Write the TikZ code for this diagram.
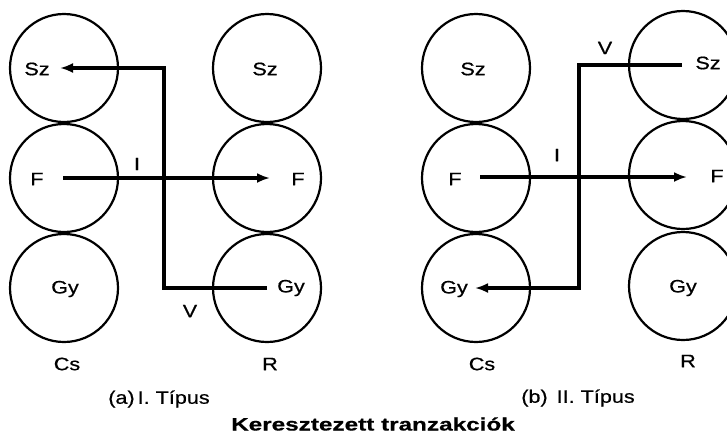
\documentclass[tikz,border=0pt]{standalone}
\usepackage{fontspec}
\setmainfont[FakeStretch=1.2,FakeBold=0.6]{Liberation Sans}
\newfontfamily\titlefont[FakeStretch=1.35,FakeBold=0.6]{Liberation Sans}
\usetikzlibrary{arrows.meta}
\begin{document}
\begin{tikzpicture}[x=1pt,y=-1pt,
  ring/.style={draw, line width=2.2pt, circle, minimum size=108pt, inner sep=0pt},
  lbl/.style={font=\fontsize{18}{20}\selectfont, inner sep=0pt},
  flow/.style={line width=3.8pt, line join=miter, -{Latex[length=13pt,width=10pt]}}]
\useasboundingbox (0,0) rectangle (727,442);
% ---- panel (a) ----
\node[ring] (aSz1) at (64,68) {};
\node[ring] (aF1)  at (64,178) {};
\node[ring] (aGy1) at (64,288) {};
\node[ring] (aSz2) at (267,68) {};
\node[ring] (aF2)  at (267,178) {};
\node[ring] (aGy2) at (267,288) {};
\node[lbl] (taSz1) at (37,69) {Sz};
\node[lbl] (taF1)  at (37,179) {F};
\node[lbl] (taGy1) at (65,289) {Gy};
\node[lbl] (taSz2) at (265,69) {Sz};
\node[lbl] (taF2)  at (298,179) {F};
\node[lbl] (taGy2) at (291,288) {Gy};
\node[lbl] (aCs) at (67,364) {Cs};
\node[lbl] (aR)  at (270,364) {R};
\node[lbl] (aI)  at (137,164) {I};
\node[lbl] (aV)  at (190,311) {V};
\node[lbl] (acap) at (159,399) {(a)\,I. Típus};
\coordinate (aIs) at (63,178);
\coordinate (aIe) at (270,178);
\coordinate (aVs) at (267,288);
\coordinate (aVc1) at (164,288);
\coordinate (aVc2) at (164,68);
\coordinate (aVe) at (60,68);
\draw[flow] (aIs) -- (aIe);
\draw[flow] (aVs) -- (aVc1) -- (aVc2) -- (aVe);
% ---- panel (b) ----
\node[ring] (bSz1) at (476,68) {};
\node[ring] (bF1)  at (476,178) {};
\node[ring] (bGy1) at (476,288) {};
\node[ring] (bSz2) at (683,65) {};
\node[ring] (bF2)  at (683,175) {};
\node[ring] (bGy2) at (683,286) {};
\node[lbl] (tbSz1) at (473,69) {Sz};
\node[lbl] (tbF1)  at (455,179) {F};
\node[lbl] (tbGy1) at (454,289) {Gy};
\node[lbl] (tbSz2) at (708,63) {Sz};
\node[lbl] (tbF2)  at (717,176) {F};
\node[lbl] (tbGy2) at (683,288) {Gy};
\node[lbl] (bCs) at (482,364) {Cs};
\node[lbl] (bR)  at (688,361) {R};
\node[lbl] (bI)  at (557,155) {I};
\node[lbl] (bV)  at (605,48) {V};
\node[lbl] (bcap) at (578,398) {(b)\enspace II. Típus};
\coordinate (bIs) at (480,177);
\coordinate (bIe) at (687,177);
\coordinate (bVs) at (682,65);
\coordinate (bVc1) at (579,65);
\coordinate (bVc2) at (579,288);
\coordinate (bVe) at (475,288);
\draw[flow] (bIs) -- (bIe);
\draw[flow] (bVs) -- (bVc1) -- (bVc2) -- (bVe);
% ---- title ----
\node[inner sep=0pt, font=\titlefont\bfseries\fontsize{18}{20}\selectfont] (title) at (373,424) {Keresztezett tranzakciók};
\end{tikzpicture}
\end{document}
